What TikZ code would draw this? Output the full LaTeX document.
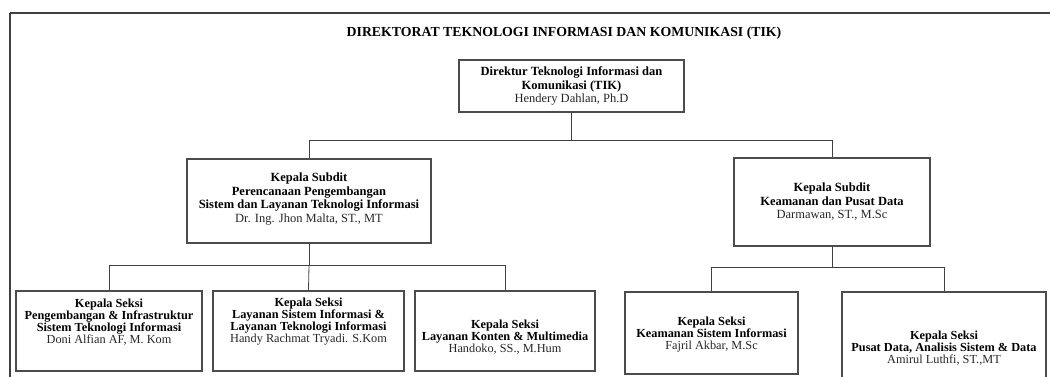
\documentclass[tikz,border=0pt]{standalone}
\usepackage{fontspec}
\setmainfont{Liberation Serif}
\begin{document}
\begin{tikzpicture}[x=1pt,y=-1pt,
  box/.style={draw=black!70, line width=1.1pt, rectangle, inner sep=0pt},
  conn/.style={draw=black!75, line width=0.8pt},
  frame/.style={draw=black!75, line width=1.6pt},
  toptxt/.style={align=center, font=\fontsize{12.5}{13.5}\selectfont, inner sep=0pt},
  lowtxt/.style={align=center, font=\fontsize{12.3}{12}\selectfont, inner sep=0pt}]
\useasboundingbox (0,0) rectangle (1050,376);
\clip (0,0) rectangle (1050,376);
\draw[frame] (10,13) -- (1060,13);
\draw[frame] (10,13) -- (10,390);
\node[font=\fontsize{13.8}{15}\selectfont\bfseries, inner sep=0pt] (title) at (564,33) {DIREKTORAT TEKNOLOGI INFORMASI DAN KOMUNIKASI (TIK)};
% Direktur
\node[box, minimum width=225, minimum height=52] (dir) at (571.5,86) {};
\node[toptxt] (dirt) at (571.5,86) {\textbf{Direktur Teknologi Informasi dan}\\\textbf{Komunikasi (TIK)}\\{\color{black!85}Hendery Dahlan, Ph.D}};
% Subdit
\node[box, minimum width=244, minimum height=84] (subL) at (309,201) {};
\node[toptxt] (subLt) at (309,199) {\textbf{Kepala Subdit}\\\textbf{Perencanaan Pengembangan}\\\textbf{Sistem dan Layanan Teknologi Informasi}\\{\color{black!85}Dr. Ing. Jhon Malta, ST., MT}};
\node[box, minimum width=196, minimum height=88] (subR) at (832,202) {};
\node[toptxt] (subRt) at (832,202) {\textbf{Kepala Subdit}\\\textbf{Keamanan dan Pusat Data}\\{\color{black!85}Darmawan, ST., M.Sc}};
% Seksi
\node[box, minimum width=186, minimum height=80] (s1) at (109,331) {};
\node[lowtxt] (s1t) at (109,322) {\textbf{Kepala Seksi}\\\textbf{Pengembangan \& Infrastruktur}\\\textbf{Sistem Teknologi Informasi}\\{\color{black!85}Doni Alfian AF, M. Kom}};
\node[box, minimum width=191, minimum height=80] (s2) at (308.5,331) {};
\node[lowtxt] (s2t) at (308.5,322) {\textbf{Kepala Seksi}\\\textbf{Layanan Sistem Informasi \&}\\\textbf{Layanan Teknologi Informasi}\\{\color{black!85}Handy Rachmat Tryadi. S.Kom}};
\node[box, minimum width=180, minimum height=80] (s3) at (505,331) {};
\node[lowtxt] (s3t) at (505,337) {\textbf{Kepala Seksi}\\\textbf{Layanan Konten \& Multimedia}\\{\color{black!85}Handoko, SS., M.Hum}};
\node[box, minimum width=173, minimum height=82] (s4) at (711.5,333) {};
\node[lowtxt] (s4t) at (711.5,335) {\textbf{Kepala Seksi}\\\textbf{Keamanan Sistem Informasi}\\{\color{black!85}Fajril Akbar, M.Sc}};
\node[box, minimum width=204, minimum height=114] (s5) at (944,349) {};
\node[lowtxt] (s5t) at (944,348) {\textbf{Kepala Seksi}\\\textbf{Pusat Data, Analisis Sistem \& Data}\\{\color{black!85}Amirul Luthfi, ST.,MT}};
% connectors
\coordinate (j1) at (571.5,140);
\coordinate (j2) at (309,265);
\coordinate (j3) at (832,267);
\draw[conn] (dir.south) -- (j1);
\draw[conn] (j1) -| (subL.north);
\draw[conn] (j1) -| (subR.north);
\draw[conn] (subL.south) -- (j2);
\draw[conn] (j2) -| (s1.north);
\draw[conn] (j2) -- (s2.north);
\draw[conn] (j2) -| (s3.north);
\draw[conn] (subR.south) -- (j3);
\draw[conn] (j3) -| (s4.north);
\draw[conn] (j3) -| (s5.north);
\end{tikzpicture}
\end{document}
